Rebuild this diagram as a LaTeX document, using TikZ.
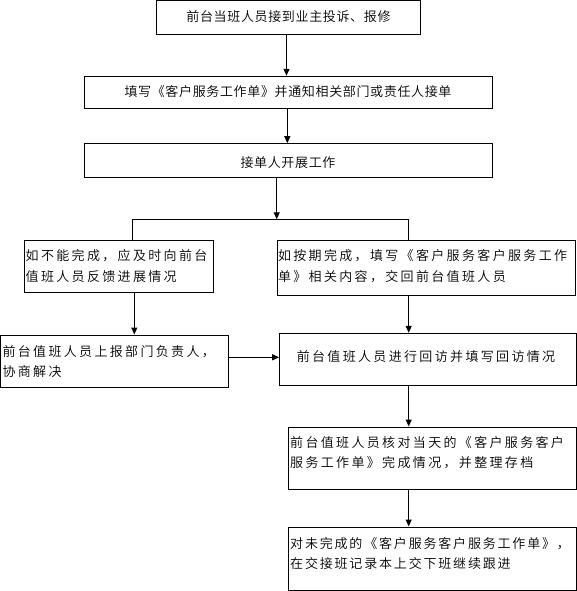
\documentclass[tikz,border=0pt]{standalone}
\usepackage{fontspec}
\usetikzlibrary{arrows.meta}
\newfontfamily\cjkA{Noto Sans CJK SC}[UprightFont=* DemiLight, LetterSpace=5]
\newfontfamily\cjkB{Noto Sans CJK SC}[UprightFont=* DemiLight, LetterSpace=18]
\newfontfamily\cjkC{Noto Sans CJK SC}[UprightFont=* DemiLight, LetterSpace=14]
\tikzset{
  box/.style={draw, line width=1pt, inner sep=0pt},
  arr/.style={line width=1pt, -{Triangle[length=7pt,width=6pt]}},
  conn/.style={line width=1pt},
  txtA/.style={inner sep=0pt, font=\cjkA\fontsize{13}{20.5}\selectfont},
  txtB/.style={inner sep=0pt, align=left, font=\cjkB\fontsize{13}{20.5}\selectfont},
  txtC/.style={inner sep=0pt, align=left, font=\cjkC\fontsize{13}{20.5}\selectfont},
}
\begin{document}
\begin{tikzpicture}[x=1pt,y=-1pt]
\useasboundingbox (0,0) rectangle (577,591);
% boxes
\node[box, minimum width=263.6pt, minimum height=34pt] (b1) at (288.5,18) {};
\node[box, minimum width=408pt, minimum height=32pt] (b2) at (288.3,92.3) {};
\node[box, minimum width=408pt, minimum height=33.3pt] (b3) at (288.3,160.35) {};
\node[box, minimum width=189pt, minimum height=51.6pt] (b4) at (118.8,266.5) {};
\node[box, minimum width=298.3pt, minimum height=54.3pt] (b5) at (426.15,267.85) {};
\node[box, minimum width=227.7pt, minimum height=52.3pt] (b6) at (114.45,361.15) {};
\node[box, minimum width=296.3pt, minimum height=51.7pt] (b7) at (427.85,359.15) {};
\node[box, minimum width=287.3pt, minimum height=62.3pt] (b8) at (432.35,458.15) {};
\node[box, minimum width=287.3pt, minimum height=63.3pt] (b9) at (432.35,558.65) {};
% texts
\node[txtA] (t1) at (288.5,16.5) {前台当班人员接到业主投诉、报修};
\node[txtA] (t2) at (288,92) {填写《客户服务工作单》并通知相关部门或责任人接单};
\node[txtA] (t3) at (288,162.3) {接单人开展工作};
\node[txtB, anchor=west] (t4) at (25.5,266.2) {如不能完成，应及时向前台\\值班人员反馈进展情况};
\node[txtB, anchor=west] (t5) at (277.8,266.3) {如按期完成，填写《客户服务客户服务工作\\单》相关内容，交回前台值班人员};
\node[txtB, anchor=west] (t6) at (2.3,361.7) {前台值班人员上报部门负责人，\\协商解决};
\node[txtB] (t7) at (426,356.7) {前台值班人员进行回访并填写回访情况};
\node[txtB, anchor=west] (t8) at (290,452.7) {前台值班人员核对当天的《客户服务客户\\服务工作单》完成情况，并整理存档};
\node[txtC, anchor=west] (t9) at (290,553.7) {对未完成的《客户服务客户服务工作单》，\\在交接班记录本上交下班继续跟进};
% junction coordinates
\coordinate (j) at (276.7,219.3);
\coordinate (jl) at (132.3,219.3);
\coordinate (jr) at (408.7,219.3);
% connectors
\draw[arr] ([xshift=-2pt]b1.south) -- ([xshift=-2pt]b1.south |- b2.north);
\draw[arr] ([xshift=-1pt]b2.south) -- ([xshift=-1pt]b2.south |- b3.north);
\draw[arr] ([xshift=-11.6pt]b3.south) -- (j);
\draw[conn] (b4.north -| jl) -- (jl) -- (jr) -- (b5.north -| jr);
\draw[arr] ([xshift=15.5pt]b4.south) -- ([xshift=15.5pt]b4.south |- b6.north);
\draw[arr] ([yshift=3.85pt]b6.east) -- ([yshift=3.85pt]b6.east -| b7.west);
\draw[arr] (b5.south -| jr) -- (b7.north -| jr);
\draw[arr] (b7.south -| jr) -- (b8.north -| jr);
\draw[arr] (b8.south -| jr) -- (b9.north -| jr);
\end{tikzpicture}
\end{document}
